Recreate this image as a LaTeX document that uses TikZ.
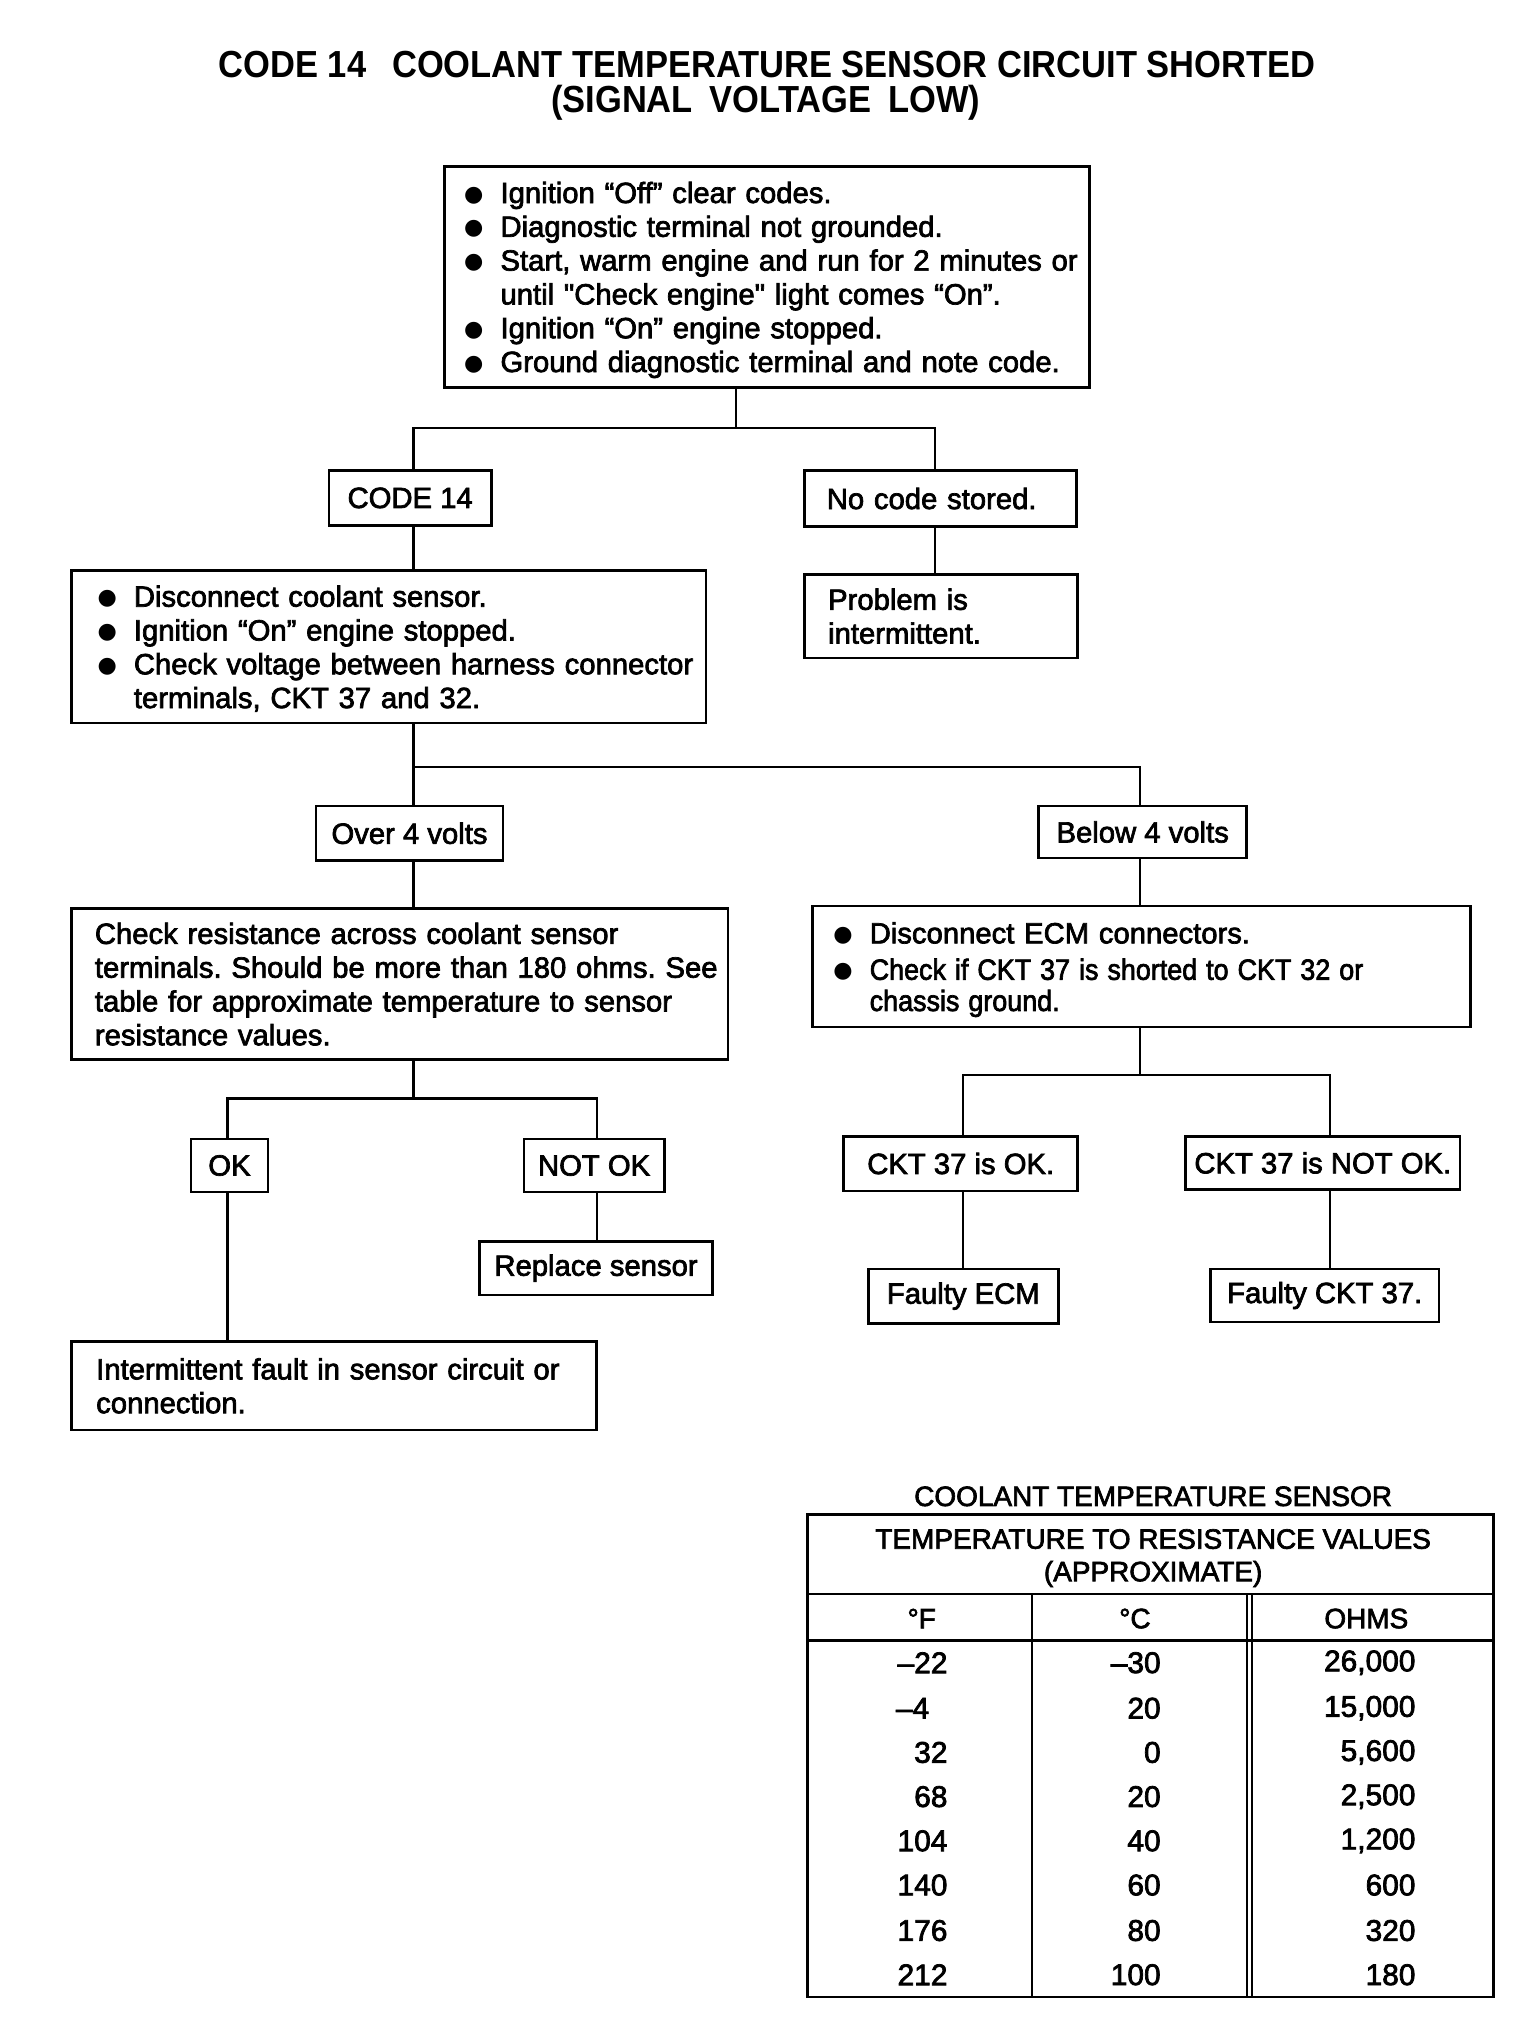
\documentclass[tikz,border=0pt]{standalone}
\usepackage{fontspec}
\setmainfont{Liberation Sans}
\newfontfamily\bodyfont{Liberation Sans}[FakeBold=2.4]
\newfontfamily\titlefont{Liberation Sans}[FakeStretch=0.915]
\newfontfamily\symfont{DejaVu Sans}
\newcommand\bul{\makebox[28pt][l]{\raisebox{1.5pt}{\symfont\fontsize{17}{17}\selectfont ●}}}
\newcommand\ind{\hspace*{28pt}}
\newcommand\nod[1]{\raisebox{0pt}[\height][0pt]{#1}}
\frenchspacing
\tikzset{
  box/.style={draw, line width=2pt, inner sep=0pt, font=\bodyfont\frenchspacing\fontsize{22.5}{26}\selectfont},
  conn/.style={line width=1.8pt},
  tabline/.style={line width=1.8pt},
  ttext/.style={inner sep=0pt, font=\bodyfont\fontsize{21.5}{25}\selectfont},
  num/.style={inner sep=0pt, font=\bodyfont\fontsize{23}{25}\selectfont},
  ttl/.style={inner sep=0pt, font=\titlefont\bfseries\fontsize{29}{30}\selectfont}
}
\begin{document}
\begin{tikzpicture}[x=1pt,y=-1pt]
\fill[white] (0,0) rectangle (1181.5,1569.2);

% title
\node[ttl] (t1) at (590,50) {CODE 14\hspace{20pt}COOLANT TEMPERATURE SENSOR CIRCUIT SHORTED};
\node[ttl] (t2) at (589,79) {(SIGNAL\hspace{13pt}VOLTAGE\hspace{13pt}LOW)};

% boxes
\node[box, minimum width=496pt, minimum height=170pt, text width=466pt, align=left] (b1) at (590,213)
 {\mbox{\bul Ignition “Off” clear codes.}\\
  \mbox{\bul Diagnostic terminal not grounded.}\\
  \mbox{\bul Start, warm engine and run for 2 minutes or}\\
  \mbox{\ind until "Check engine" light comes “On”.}\\
  \mbox{\bul Ignition “On” engine stopped.}\\
  \nod{\mbox{\bul Ground diagnostic terminal and note code.}}};

\node[box, minimum width=125pt, minimum height=42pt] (code) at (315.5,383) {CODE 14};
\node[box, minimum width=209pt, minimum height=43pt, text width=175pt, align=left] (nocode) at (723.5,383.5) {No code stored.};
\node[box, minimum width=210pt, minimum height=64pt, text width=174pt, align=left] (prob) at (724,474) {Problem is\\intermittent.};

\node[box, minimum width=488pt, minimum height=117pt, text width=448pt, align=left] (b2) at (299,497.5)
 {\mbox{\bul Disconnect coolant sensor.}\\
  \mbox{\bul Ignition “On” engine stopped.}\\
  \mbox{\bul Check voltage between harness connector}\\
  \nod{\mbox{\ind terminals, CKT 37 and 32.}}};

\node[box, minimum width=144pt, minimum height=42pt] (over) at (315,641) {Over 4 volts};
\node[box, minimum width=160pt, minimum height=40pt] (below) at (879,640) {Below 4 volts};

\node[box, minimum width=505pt, minimum height=116pt, text width=469pt, align=left] (b3) at (307.5,757)
 {\mbox{Check resistance across coolant sensor}\\
  \mbox{terminals. Should be more than 180 ohms. See}\\
  \mbox{table for approximate temperature to sensor}\\
  \mbox{resistance values.}};

\node[box, minimum width=506pt, minimum height=93pt, text width=474pt, align=left] (b4) at (878,743.5)
 {\mbox{\bul Disconnect ECM connectors.}\\[2pt]
  \mbox{\bul \scalebox{0.92}[1]{Check if CKT 37 is shorted to CKT 32 or}}\\[-2pt]
  \nod{\mbox{\ind \scalebox{0.92}[1]{chassis ground.}}}};

\node[box, minimum width=59pt, minimum height=41pt] (ok) at (176.5,896.5) {OK};
\node[box, minimum width=108pt, minimum height=41pt] (notok) at (457,896.5) {NOT OK};
\node[box, minimum width=179pt, minimum height=41pt] (repl) at (458.5,975.5) {Replace sensor};
\node[box, minimum width=404pt, minimum height=68pt, text width=366pt, align=left] (inter) at (257,1066)
 {\mbox{Intermittent fault in sensor circuit or}\\connection.};

\node[box, minimum width=180pt, minimum height=42pt] (cktok) at (739,895) {CKT 37 is OK.};
\node[box, minimum width=211pt, minimum height=41pt] (cktnot) at (1017.5,894.5) {CKT 37 is NOT OK.};
\node[box, minimum width=146pt, minimum height=42pt] (fecm) at (741,997) {Faulty ECM};
\node[box, minimum width=176pt, minimum height=41pt] (fckt) at (1019,996.5) {Faulty CKT 37.};

% connector coordinates
\coordinate (c1) at (566,329);
\coordinate (ka) at (318,329);
\coordinate (kb) at (719,329);
\coordinate (kc) at (318,590);
\coordinate (kd) at (877,590);
\coordinate (ke) at (318,845);
\coordinate (kf) at (175,845);
\coordinate (kg) at (459,845);
\coordinate (kh) at (877,827);
\coordinate (ki) at (741,827);
\coordinate (kj) at (1023,827);

% connectors
\draw[conn] (b1.south -| c1) -- (c1);
\draw[conn] (code.north -| ka) -- (ka) -- (kb) -- (nocode.north -| kb);
\draw[conn] (nocode.south -| kb) -- (prob.north -| kb);
\draw[conn] (code.south -| ka) -- (b2.north -| ka);
\draw[conn] (b2.south -| kc) -- (kc) -- (kd) -- (below.north -| kd);
\draw[conn] (kc) -- (over.north -| kc);
\draw[conn] (over.south -| kc) -- (b3.north -| kc);
\draw[conn] (below.south -| kd) -- (b4.north -| kd);
\draw[conn] (b3.south -| ke) -- (ke);
\draw[conn] (ok.north -| kf) -- (kf) -- (kg) -- (notok.north -| kg);
\draw[conn] (notok.south -| kg) -- (repl.north -| kg);
\draw[conn] (ok.south -| kf) -- (inter.north -| kf);
\draw[conn] (b4.south -| kh) -- (kh);
\draw[conn] (cktok.north -| ki) -- (ki) -- (kj) -- (cktnot.north -| kj);
\draw[conn] (cktok.south -| ki) -- (fecm.north -| ki);
\draw[conn] (cktnot.south -| kj) -- (fckt.north -| kj);

% table
\node[ttext] (tt) at (887,1151) {COOLANT TEMPERATURE SENSOR};
\draw[line width=2pt] (621,1165) rectangle (1149,1536);
\node[ttext, align=center] (th) at (887,1198.5) {TEMPERATURE TO RESISTANCE VALUES\\(APPROXIMATE)};
\draw[tabline] (621,1226) -- (1149,1226);
\draw[tabline] (621,1262) -- (1149,1262);
\draw[tabline] (794,1226) -- (794,1536);
\draw[tabline] (959,1226) -- (959,1536);
\draw[tabline] (963,1226) -- (963,1536);
\node[ttext] (hf) at (709,1245) {°F};
\node[ttext] (hc) at (873,1245) {°C};
\node[ttext] (ho) at (1051,1245) {OHMS};

\node[num, anchor=east] (f1) at (729,1279) {–22};
\node[num, anchor=west] (f2) at (689,1314) {–4};
\node[num, anchor=east] (f3) at (729,1348) {32};
\node[num, anchor=east] (f4) at (729,1382) {68};
\node[num, anchor=east] (f5) at (729,1416) {104};
\node[num, anchor=east] (f6) at (729,1450) {140};
\node[num, anchor=east] (f7) at (729,1485) {176};
\node[num, anchor=east] (f8) at (729,1519) {212};

\node[num, anchor=east] (c1n) at (893,1279) {–30};
\node[num, anchor=east] (c2n) at (893,1314) {20};
\node[num, anchor=east] (c3n) at (893,1348) {0};
\node[num, anchor=east] (c4n) at (893,1382) {20};
\node[num, anchor=east] (c5n) at (893,1416) {40};
\node[num, anchor=east] (c6n) at (893,1450) {60};
\node[num, anchor=east] (c7n) at (893,1485) {80};
\node[num, anchor=east] (c8n) at (893,1519) {100};

\node[num, anchor=east] (o1) at (1089,1279) {26,000};
\node[num, anchor=east] (o2) at (1089,1314) {15,000};
\node[num, anchor=east] (o3) at (1089,1348) {5,600};
\node[num, anchor=east] (o4) at (1089,1382) {2,500};
\node[num, anchor=east] (o5) at (1089,1416) {1,200};
\node[num, anchor=east] (o6) at (1089,1450) {600};
\node[num, anchor=east] (o7) at (1089,1485) {320};
\node[num, anchor=east] (o8) at (1089,1519) {180};
\end{tikzpicture}
\end{document}
